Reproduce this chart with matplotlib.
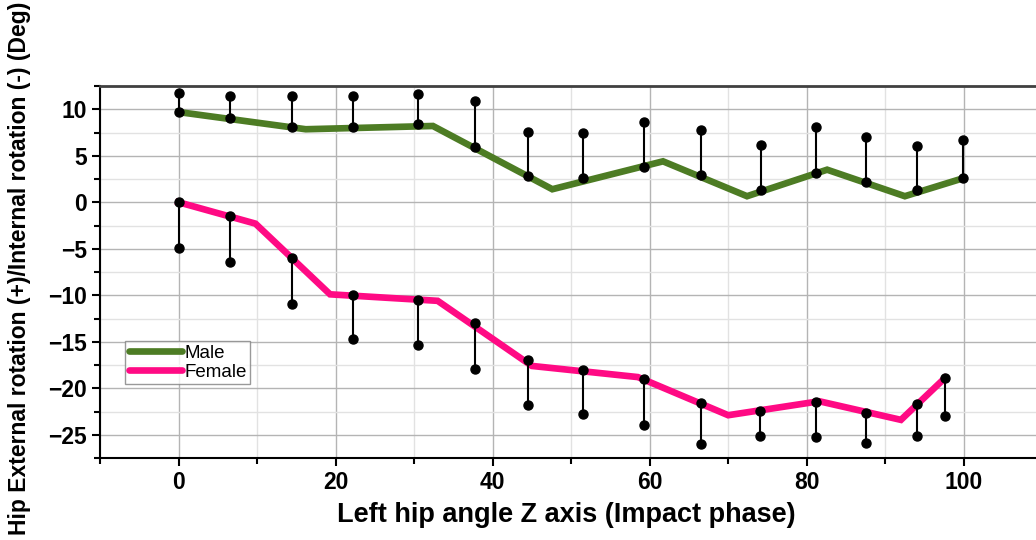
import numpy as np
import matplotlib
matplotlib.use("Agg")
import matplotlib.pyplot as plt
from matplotlib.ticker import MultipleLocator

plt.rcParams['font.family'] = ['Liberation Sans', 'DejaVu Sans']

# mean curves (vertices of the polylines)
male_line_x = [0, 16.2, 32.4, 47.6, 61.7, 72.4, 82.6, 92.5, 100]
male_line_y = [9.7, 7.85, 8.2, 1.4, 4.4, 0.65, 3.5, 0.65, 2.6]
female_line_x = [0, 9.8, 19.3, 33, 45, 58.5, 70, 81.6, 92, 97.6]
female_line_y = [0, -2.3, -9.9, -10.6, -17.6, -18.8, -22.9, -21.4, -23.4, -18.9]

# sample points with one-sided error bars
male_x = [0, 6.5, 14.5, 22.2, 30.5, 37.7, 44.5, 51.5, 59.3, 66.5, 74.2, 81.2, 87.5, 94.0, 99.9]
male_y = [9.7, 9.1, 8.1, 8.1, 8.4, 5.9, 2.8, 2.6, 3.8, 2.9, 1.3, 3.1, 2.2, 1.3, 2.6]
male_top = [11.8, 11.4, 11.4, 11.4, 11.6, 10.9, 7.6, 7.4, 8.6, 7.8, 6.2, 8.1, 7.0, 6.1, 6.7]

female_x = [0, 6.6, 14.4, 22.2, 30.5, 37.7, 44.5, 51.5, 59.3, 66.5, 74.0, 81.2, 87.5, 94.0, 97.6]
female_y = [0, -1.5, -6.0, -10.0, -10.5, -13.0, -17.0, -18.0, -19.0, -21.6, -22.4, -21.5, -22.7, -21.7, -18.9]
female_bot = [-4.9, -6.4, -10.9, -14.7, -15.4, -17.9, -21.8, -22.8, -24.0, -26.0, -25.1, -25.2, -25.9, -25.1, -23.0]

green = '#4d7c24'
pink = '#ff0a84'

fig = plt.figure(figsize=(10.36, 5.40), dpi=100)
ax = fig.add_axes([100/1036, 82/540, 936/1036, 372/540])

ax.plot(male_line_x, male_line_y, color=green, lw=4.8, solid_joinstyle='miter', label='Male', zorder=3)
ax.plot(female_line_x, female_line_y, color=pink, lw=4.8, solid_joinstyle='miter', label='Female', zorder=3)

ax.vlines(male_x, male_y, male_top, color='black', lw=1.5, zorder=4)
ax.vlines(female_x, female_bot, female_y, color='black', lw=1.5, zorder=4)
for xs, ys in [(male_x, male_y), (male_x, male_top), (female_x, female_y), (female_x, female_bot)]:
    ax.plot(xs, ys, 'o', color='black', ms=6.5, zorder=5)

ax.set_xlim(-10, 109.2)
ax.set_ylim(-27.5, 12.5)
ax.xaxis.set_major_locator(MultipleLocator(20))
ax.xaxis.set_minor_locator(MultipleLocator(10))
ax.yaxis.set_major_locator(MultipleLocator(5))
ax.yaxis.set_minor_locator(MultipleLocator(2.5))
ax.grid(which='major', color='#b4b4b4', lw=1)
ax.grid(which='minor', color='#e2e2e2', lw=1)
ax.set_axisbelow(True)

ax.tick_params(which='major', direction='out', length=6, width=1.5, labelsize=16.5)
ax.tick_params(which='minor', direction='out', length=4, width=1.5)
for lab in ax.get_xticklabels() + ax.get_yticklabels():
    lab.set_fontweight('bold')

ax.spines['right'].set_visible(False)
ax.spines['left'].set_linewidth(1.5)
ax.spines['bottom'].set_linewidth(1.5)
ax.spines['top'].set_linewidth(2)
ax.spines['top'].set_color('#404040')

fig.text(566/1036, 1 - 515/540, 'Left hip angle Z axis (Impact phase)', ha='center', va='center',
         fontsize=19.5, fontweight='bold')
fig.text(20/1036, 1 - 268/540, 'Hip External rotation (+)/Internal rotation (-) (Deg)', rotation=90,
         ha='center', va='center', fontsize=16.5, fontweight='bold')

leg = ax.legend(loc='upper left', bbox_to_anchor=(0.027, 0.315), fontsize=13.5, frameon=True,
                fancybox=False, edgecolor='#808080', handlelength=2.8, borderpad=0.2,
                labelspacing=0.1, handletextpad=0.15, borderaxespad=0)
leg.get_frame().set_linewidth(1)
for h in leg.get_lines():
    h.set_solid_capstyle('round')

fig.savefig('out.png', dpi=100)
